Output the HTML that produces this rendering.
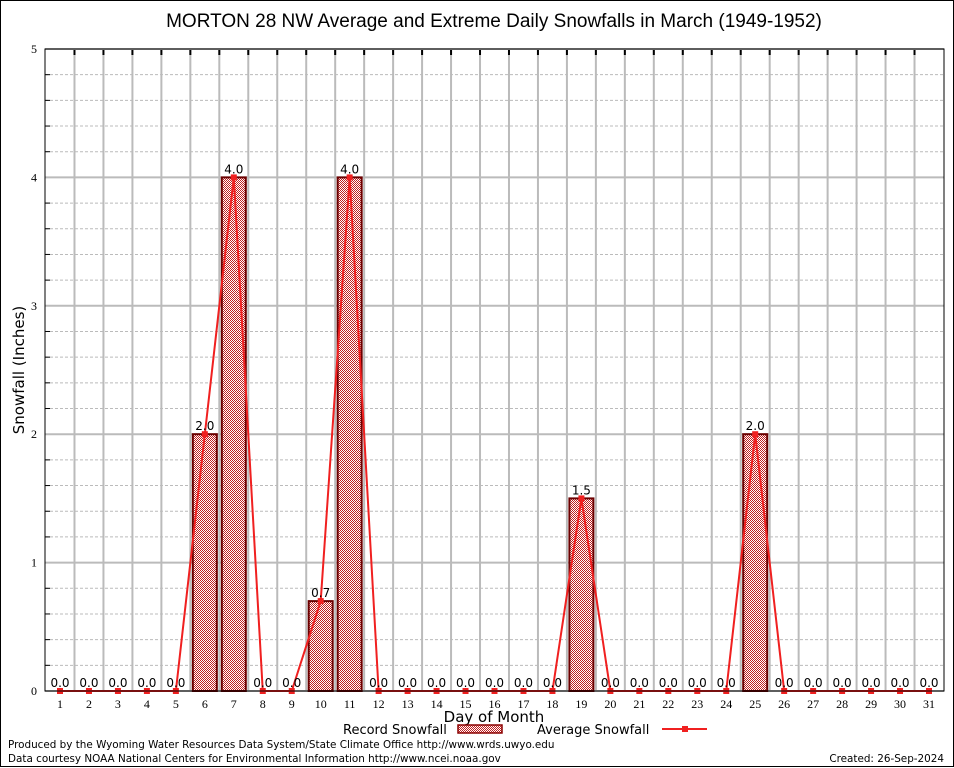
<!DOCTYPE html>
<html><head><meta charset="utf-8"><style>
body{margin:0;background:#fff}
svg{display:block}
</style></head><body>
<svg id="chart" width="954" height="768" xmlns="http://www.w3.org/2000/svg">
<defs>
<pattern id="hatch" width="2" height="2" patternUnits="userSpaceOnUse">
<rect width="2" height="2" fill="#fff"/><rect width="1" height="1" fill="#c02020"/><rect x="1" y="1" width="1" height="1" fill="#c02020"/>
</pattern>
</defs>
<rect x="0.5" y="0.5" width="953" height="766" fill="none" stroke="#000"/>
<text x="494" y="27" font-family="Liberation Sans, sans-serif" font-size="19" text-anchor="middle">MORTON 28 NW Average and Extreme Daily Snowfalls in March (1949-1952)</text>
<g id="grid"></g>
<g id="bars"></g>
<g id="line"></g>
<g id="labels"></g>
<rect x="45" y="49" width="899" height="642" fill="none" stroke="#000"/>
<text transform="translate(24,370) rotate(-90)" font-family="DejaVu Sans, sans-serif" font-size="15" text-anchor="middle">Snowfall (Inches)</text>
<text x="494" y="722" font-family="DejaVu Sans, sans-serif" font-size="15" text-anchor="middle">Day of Month</text>
<g font-family="DejaVu Sans, sans-serif" font-size="13">
<text x="343" y="734">Record Snowfall</text>
<rect x="458" y="725" width="44" height="8" fill="url(#hatch)" stroke="#8b0000" stroke-width="1.5"/>
<text x="537" y="734">Average Snowfall</text>
<line x1="662" y1="729" x2="707" y2="729" stroke="#f02020" stroke-width="2"/>
<rect x="682" y="726" width="6" height="6" fill="#f02020"/>
</g>
<text x="8" y="748" font-family="DejaVu Sans, sans-serif" font-size="10.4">Produced by the Wyoming Water Resources Data System/State Climate Office http://www.wrds.uwyo.edu</text>
<text x="8" y="762" font-family="DejaVu Sans, sans-serif" font-size="10.4">Data courtesy NOAA National Centers for Environmental Information http://www.ncei.noaa.gov</text>
<text x="944" y="762" font-family="DejaVu Sans, sans-serif" font-size="10.4" text-anchor="end">Created:  26-Sep-2024</text>
</svg>
<script>
const days=[1,2,3,4,5,6,7,8,9,10,11,12,13,14,15,16,17,18,19,20,21,22,23,24,25,26,27,28,29,30,31];
const recordSnow=[0,0,0,0,0,2.0,4.0,0,0,0.7,4.0,0,0,0,0,0,0,0,1.5,0,0,0,0,0,2.0,0,0,0,0,0,0];
const avgSnow=[0,0,0,0,0,2.0,4.0,0,0,0.7,4.0,0,0,0,0,0,0,0,1.5,0,0,0,0,0,2.0,0,0,0,0,0,0];
const yTicks=[0,1,2,3,4,5];
const NS='http://www.w3.org/2000/svg';
const L=45,R=944,T=49,B=691,yMax=5;
function xs(d){return L+15+(d-1)*(R-L-30)/30;}
function ys(v){return B-v*(B-T)/yMax;}
function mk(tag,attrs,parent){const e=document.createElementNS(NS,tag);for(const k in attrs)e.setAttribute(k,attrs[k]);parent.appendChild(e);return e;}
const grid=document.getElementById('grid'),bars=document.getElementById('bars'),line=document.getElementById('line'),labels=document.getElementById('labels');
const step=(R-L-30)/30;
for(let v=0.2;v<yMax;v+=0.2){
 if(Math.abs(v-Math.round(v))<1e-6)continue;
 const g=mk('line',{x1:L,x2:R,y1:ys(v),y2:ys(v),stroke:'#bbb','stroke-dasharray':'3,2','stroke-width':1},grid);
 
 
 const t1=mk('line',{x1:L,x2:L+5,y1:ys(v),y2:ys(v),stroke:'#000'},grid);
 
 
}
for(let i=0;i<30;i++){
 const x=xs(days[i])+step/2;
 const g=mk('line',{x1:x,x2:x,y1:T,y2:B,stroke:'#bbb','stroke-width':2},grid);
 
 
 const t=mk('line',{x1:x,x2:x,y1:T,y2:T+6,stroke:'#000','stroke-width':2},grid);
 
 
}
yTicks.forEach(v=>{
 const g=mk('line',{x1:L,x2:R,y1:ys(v),y2:ys(v),stroke:'#bbb','stroke-width':2},grid);
 
 
 const t=mk('text',{x:L-8,y:ys(v)+4,'text-anchor':'end','font-family':'Liberation Serif, serif','font-size':12},labels);
 t.textContent=v;
 
 
});
days.forEach((d,i)=>{
 const x=xs(d);
 const t=mk('text',{x:x,y:B+17,'text-anchor':'middle','font-family':'Liberation Serif, serif','font-size':12},labels);
 t.textContent=d;
 
 
 const v=recordSnow[i];
 if(v>0){
  const b=mk('rect',{x:x-12,y:ys(v),width:24,height:B-ys(v),fill:'url(#hatch)',stroke:'#6b0000','stroke-width':2},bars);
  
  
 }
 const lb=mk('text',{x:x,y:ys(v)-4,'text-anchor':'middle','font-family':'DejaVu Sans, sans-serif','font-size':12},labels);
 lb.textContent=v.toFixed(1);
 
 
});
const pts=days.map((d,i)=>xs(d)+','+ys(avgSnow[i])).join(' ');
const pl=mk('polyline',{points:pts,fill:'none',stroke:'#f02020','stroke-width':2},line);


days.forEach((d,i)=>{
 const m=mk('rect',{x:xs(d)-3,y:ys(avgSnow[i])-3,width:6,height:6,fill:'#f02020'},line);
 
 
});
</script>
</body></html>
